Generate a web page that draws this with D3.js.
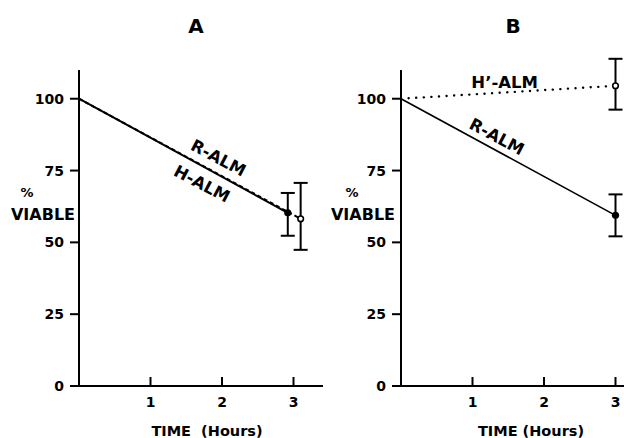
<!DOCTYPE html>
<html>
<head>
<meta charset="utf-8">
<script src="https://cdn.jsdelivr.net/npm/d3@7"></script>
<style>
  body { margin: 0; background: #fff; }
  text { font-family: "DejaVu Sans", sans-serif; font-weight: bold; fill: #000; }
</style>
</head>
<body>
<svg id="chart" width="624" height="438"></svg>
<script>
// tick values
var timeTicks = [1, 2, 3];
var viableTicks = [0, 25, 50, 75, 100];

// panel A : time (h), % viable, error low / high
var aTimes = [0, 2.92, 3.1];
var aR_ALM = [100, 60.3];
var aR_err = [52.3, 67.2];
var aH_ALM = [100, 58.2];
var aH_err = [47.4, 70.7];

// panel B
var bTimes = [0, 3];
var bR_ALM = [100, 59.4];
var bR_err = [52.1, 66.7];
var bH_ALM = [100, 104.5];
var bH_err = [96.2, 113.9];

var svg = d3.select("#chart");

function drawPanel(p) {
  var x = d3.scaleLinear().domain([0, 3]).range([p.x0, p.x0 + 214.5]);
  var y = d3.scaleLinear().domain([0, 110]).range([386, 70]);
  var g = svg.append("g");

  // title
  g.append("text")
    .attr("x", p.titleX).attr("y", 33)
    .attr("text-anchor", "middle")
    .style("font-size", "20px")
    .text(p.title);

  // y axis line
  g.append("line")
    .attr("x1", x(0)).attr("x2", x(0))
    .attr("y1", y(110)).attr("y2", y(0))
    .attr("stroke", "#000").attr("stroke-width", 2);
  // x axis line (0 tick sticks out on the left)
  g.append("line")
    .attr("x1", x(0) - 9).attr("x2", p.xEnd)
    .attr("y1", y(0)).attr("y2", y(0))
    .attr("stroke", "#000").attr("stroke-width", 2);

  // y ticks
  g.selectAll(".yt").data(viableTicks.filter(function(d){ return d > 0; }))
    .enter().append("line")
    .attr("x1", x(0) - 9).attr("x2", x(0))
    .attr("y1", function(d){ return y(d); }).attr("y2", function(d){ return y(d); })
    .attr("stroke", "#000").attr("stroke-width", 2);
  g.selectAll(".yl").data(viableTicks)
    .enter().append("text")
    .attr("x", x(0) - 15)
    .attr("y", function(d){ return y(d) + 5; })
    .attr("text-anchor", "end")
    .style("font-size", "14px")
    .text(function(d){ return d; });

  // x ticks (pointing up)
  g.selectAll(".xt").data(timeTicks)
    .enter().append("line")
    .attr("x1", function(d){ return x(d); }).attr("x2", function(d){ return x(d); })
    .attr("y1", y(0) - 9).attr("y2", y(0))
    .attr("stroke", "#000").attr("stroke-width", 2);
  g.selectAll(".xl").data(timeTicks)
    .enter().append("text")
    .attr("x", function(d){ return x(d); })
    .attr("y", 407)
    .attr("text-anchor", "middle")
    .style("font-size", "14px")
    .text(function(d){ return d; });

  // axis labels
  g.append("text").attr("x", p.x0 - p.pctOff).attr("y", 197)
    .attr("text-anchor", "middle").style("font-size", "13px").text("%");
  g.append("text").attr("x", p.x0 - p.viaOff).attr("y", 220)
    .attr("text-anchor", "middle").style("font-size", "16px").text("VIABLE");
  g.append("text").attr("x", p.xlabX).attr("y", 436)
    .attr("text-anchor", "middle").style("font-size", "14.5px")
    .attr("xml:space", "preserve")
    .text(p.xlab);

  var line = d3.line().x(function(d){ return x(d.t); }).y(function(d){ return y(d.v); });

  p.series.forEach(function(s) {
    var pts = s.times.map(function(t, i){ return { t: t, v: s.values[i] }; });
    g.append("path")
      .attr("d", line(pts))
      .attr("fill", "none")
      .attr("stroke", "#000")
      .attr("stroke-width", s.width)
      .attr("stroke-linecap", s.cap || "butt")
      .attr("stroke-dasharray", s.dash);

    var last = pts[pts.length - 1];
    var ex = x(last.t);
    // error bar
    g.append("line")
      .attr("x1", ex).attr("x2", ex)
      .attr("y1", y(s.err[0])).attr("y2", y(s.err[1]))
      .attr("stroke", "#000").attr("stroke-width", 2);
    s.err.forEach(function(e) {
      g.append("line")
        .attr("x1", ex - 7).attr("x2", ex + 7)
        .attr("y1", y(e)).attr("y2", y(e))
        .attr("stroke", "#000").attr("stroke-width", 2);
    });
    // marker
    g.append("circle")
      .attr("cx", ex).attr("cy", y(last.v))
      .attr("r", s.open ? 2.8 : 3.6)
      .attr("fill", s.open ? "#fff" : "#000")
      .attr("stroke", "#000").attr("stroke-width", s.open ? 1.6 : 0);
  });

  p.labels.forEach(function(l) {
    g.append("text")
      .attr("transform", "translate(" + x(l.t) + "," + y(l.v) + ") rotate(" + l.rot + ")")
      .attr("text-anchor", "middle")
      .attr("dy", "0.35em")
      .style("font-size", "16.5px")
      .text(l.text);
  });
}

drawPanel({
  title: "A", titleX: 196, x0: 79, xEnd: 323, xlab: "TIME  (Hours)", xlabX: 207,
  pctOff: 52, viaOff: 36,
  series: [
    { times: [aTimes[0], aTimes[2]], values: aH_ALM, err: aH_err, dash: "4,3", width: 2, open: true },
    { times: [aTimes[0], aTimes[1]], values: aR_ALM, err: aR_err, dash: null, width: 2, open: false }
  ],
  labels: [
    { text: "R-ALM", t: 1.95, v: 79.4, rot: 28 },
    { text: "H-ALM", t: 1.72, v: 70.4, rot: 28 }
  ]
});

drawPanel({
  title: "B", titleX: 513, x0: 401, xEnd: 624, xlab: "TIME (Hours)", xlabX: 531,
  pctOff: 49, viaOff: 38,
  series: [
    { times: bTimes, values: bH_ALM, err: bH_err, dash: "0.1,7.5", width: 2.4, cap: "round", open: true },
    { times: bTimes, values: bR_ALM, err: bR_err, dash: null, width: 1.6, open: false }
  ],
  labels: [
    { text: "H\u2019-ALM", t: 1.45, v: 105.9, rot: 0 },
    { text: "R-ALM", t: 1.34, v: 86.8, rot: 28 }
  ]
});
</script>
</body>
</html>
